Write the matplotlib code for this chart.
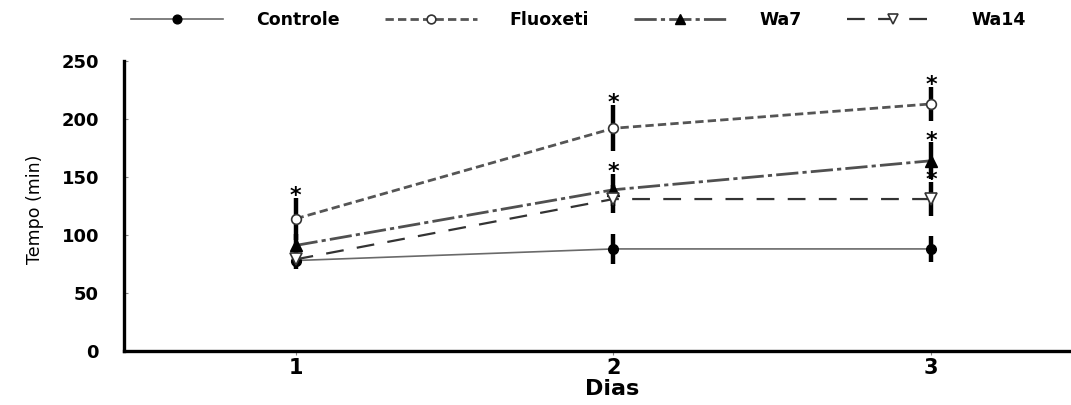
from matplotlib import pyplot as plt
import numpy as np

# Data
dias = [1, 2, 3]
controle = [78, 88, 88]
fluoxeti = [114, 192, 213]
wa7 = [91, 139, 164]
wa14 = [79, 131, 131]

controle_err = [6, 13, 11]
fluoxeti_err = [18, 20, 15]
wa7_err = [10, 14, 16]
wa14_err = [8, 12, 15]

# which points carry a significance star
fluoxeti_sig = [True, True, True]
wa7_sig = [False, True, True]
wa14_sig = [False, False, True]

series = [
    ("Controle", controle, controle_err, None,
     dict(color="#6a6a6a", lw=1.2, ls="-", marker="o", ms=7, mfc="black", mec="black")),
    ("Fluoxeti", fluoxeti, fluoxeti_err, fluoxeti_sig,
     dict(color="#555555", lw=2.0, ls=(0, (3, 1.5)), marker="o", ms=7, mfc="white", mec="#333333", mew=1.2)),
    ("Wa7", wa7, wa7_err, wa7_sig,
     dict(color="#505050", lw=2.0, ls=(0, (8, 1.5, 1.5, 1.5)), marker="^", ms=8, mfc="black", mec="black")),
    ("Wa14", wa14, wa14_err, wa14_sig,
     dict(color="#333333", lw=1.6, ls=(0, (8, 6)), marker="v", ms=8, mfc="white", mec="#333333", mew=1.2)),
]

fig = plt.figure(figsize=(10.71, 4.05), dpi=100)
ax = fig.add_axes([0.1158, 0.1333, 0.8842, 0.7161])

handles = []
for name, vals, err, sig, style in series:
    ax.errorbar(dias, vals, yerr=err, fmt="none", ecolor="black", elinewidth=3.2, capsize=0, zorder=2)
    ln, = ax.plot(dias, vals, label=name, zorder=3, **style)
    handles.append(ln)
    if sig is not None:
        for x, v, e, s in zip(dias, vals, err, sig):
            if s:
                ax.annotate("*", (x, v + e), xytext=(0, -6), textcoords="offset points",
                            ha="center", va="bottom", fontsize=16, fontweight="bold", zorder=4)

ax.set_xlim(0.46, 3.44)
ax.set_ylim(0, 250)
ax.set_xticks(dias)
ax.set_yticks([0, 50, 100, 150, 200, 250])
for s in ["top", "right"]:
    ax.spines[s].set_visible(False)
for s in ["left", "bottom"]:
    ax.spines[s].set_linewidth(2.4)
ax.tick_params(axis="y", direction="in", length=3, width=0.8, color="#888888", pad=18,
               labelsize=13)
ax.tick_params(axis="x", direction="out", length=3, width=0.8, color="#888888", pad=2,
               labelsize=15)
for lab in ax.get_xticklabels() + ax.get_yticklabels():
    lab.set_fontweight("bold")

ax.set_xlabel("Dias", fontsize=16, fontweight="bold")
ax.xaxis.set_label_coords(0.515, -0.095)
ax.set_ylabel("Tempo (min)", fontsize=12.5)
ax.yaxis.set_label_coords(-0.085, 0.49)

fig.legend(handles=handles, loc="center", bbox_to_anchor=(0.54, 0.95), ncol=4, frameon=False,
           prop=dict(size=12.5, weight="bold"), handlelength=5.3, handletextpad=1.9,
           columnspacing=2.6, markerscale=0.9)

fig.savefig("out.png", dpi=100)
